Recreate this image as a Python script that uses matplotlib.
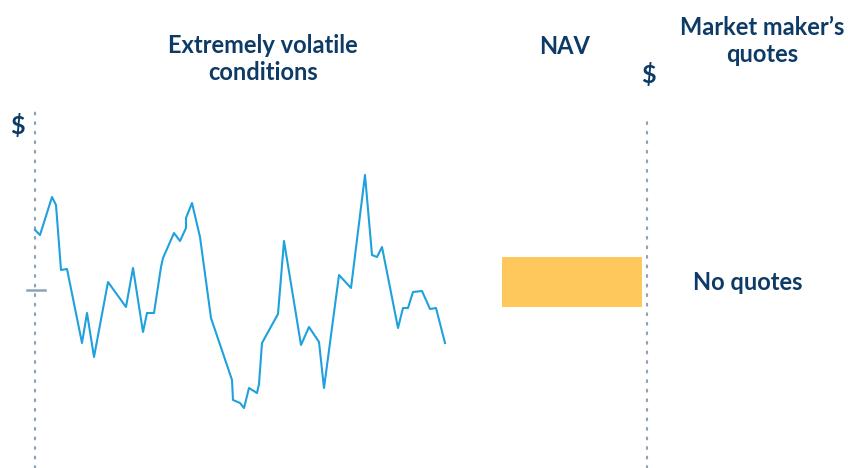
import numpy as np
import matplotlib.pyplot as plt

# price path (time steps, price with NAV-level ~100)
days = [0, 5, 17, 21, 26, 32, 47, 52, 59, 73, 91, 98, 108, 112, 119, 126, 128,
        139, 145, 151, 151, 157, 165, 176, 197, 198, 205, 209, 214, 222, 224,
        227, 243, 249, 266, 274, 284, 289, 304, 316, 330, 337, 342, 347, 363,
        368, 373, 378, 387, 395, 401, 410]
price = [106.0, 105.5, 109.3, 108.5, 102.0, 102.1, 94.7, 97.7, 93.3, 100.8,
         98.3, 102.2, 95.8, 97.7, 97.7, 102.3, 103.2, 105.7, 104.9, 106.2,
         107.2, 108.7, 105.3, 97.2, 91.0, 89.0, 88.7, 88.2, 90.2, 89.7, 90.6,
         94.7, 97.6, 104.9, 94.5, 96.3, 94.8, 90.2, 101.5, 100.2, 111.5, 103.5,
         103.3, 104.3, 96.2, 98.2, 98.2, 99.8, 99.9, 98.1, 98.2, 94.7]
nav_low, nav_high = 98.3, 103.3
ref_level = 100.0

navy = "#0d3b66"
blue = "#1ea1dc"
grey = "#8ea3b5"
orange = "#fec85c"
font = "Lato"

fig = plt.figure(figsize=(8.48, 4.68), dpi=100)
ax = fig.add_axes([0, 0, 1, 1])
ax.set_xlim(-35, 813)
ax.set_ylim(82.2, 129)
ax.axis("off")

# left price axis (dotted) and level tick
ax.plot([0, 0], [82.2, 118], color=grey, lw=1.6, ls=(0, (0.8, 3.5)),
        solid_capstyle="round", dash_capstyle="round")
ax.plot([-8, 10], [ref_level, ref_level], color=grey, lw=1.8)

# volatile price path
ax.plot(days, price, color=blue, lw=1.5)

# NAV bar
ax.bar(537, nav_high - nav_low, bottom=nav_low, width=140, color=orange)

# right dotted separator
ax.plot([612, 612], [82.2, 117.3], color=grey, lw=1.6, ls=(0, (0.8, 3.5)),
        solid_capstyle="round", dash_capstyle="round")

def label(x, y, s, size=17):
    fig.text(x / 848, 1 - y / 468, s, ha="center", va="center", color=navy,
             fontsize=size, fontweight="bold", family=font, linespacing=1.17)

label(263, 59, "Extremely volatile\nconditions")
label(565, 46, "NAV")
label(762, 41, "Market maker\u2019s\nquotes")
label(17, 126, "$", size=18)
label(648, 75, "$", size=18)
label(748, 283, "No quotes")

fig.savefig("out.png", dpi=100)
